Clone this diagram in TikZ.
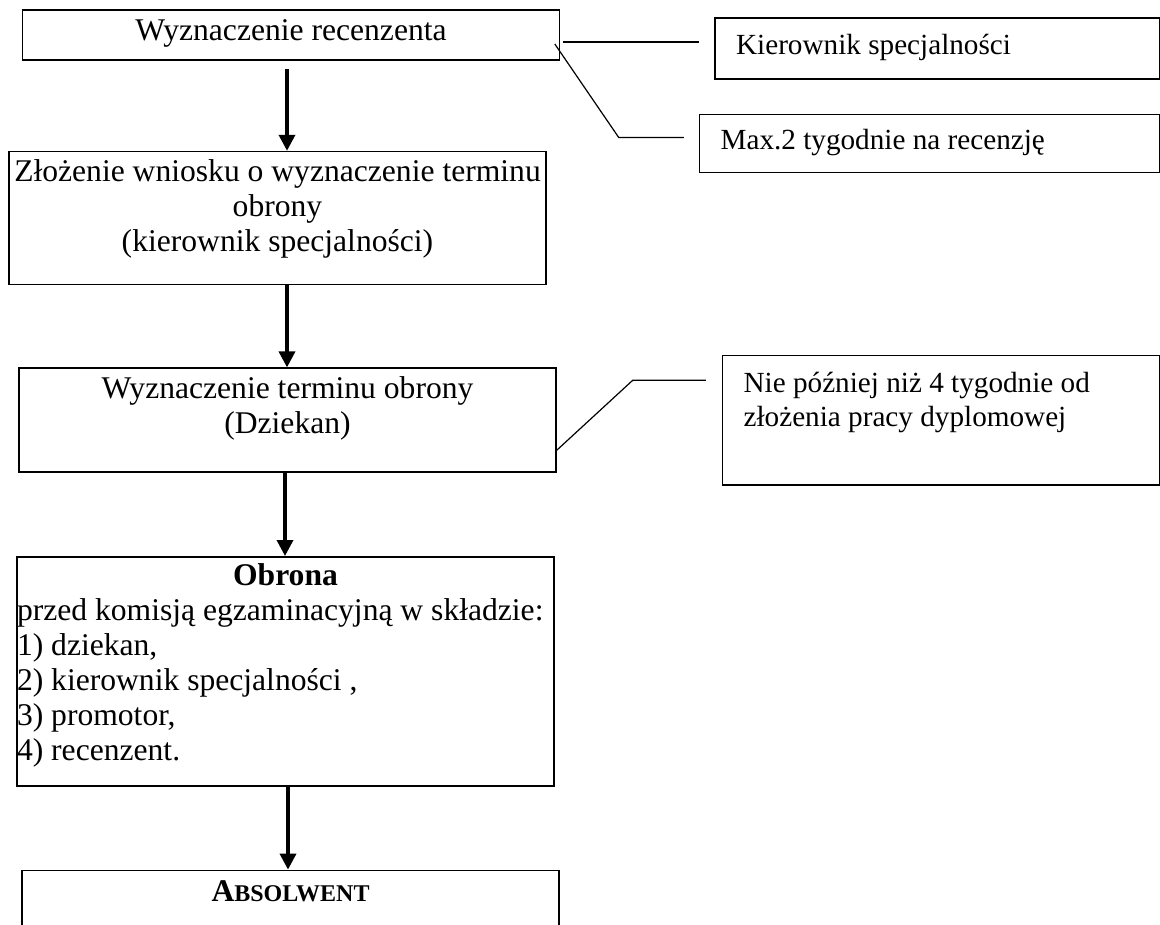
\documentclass[tikz,border=0pt]{standalone}
\usepackage{fontspec}
\setmainfont{Liberation Serif}
\usepackage{tikz}
\usetikzlibrary{positioning,arrows.meta}

\begin{document}
\begin{tikzpicture}[x=1pt,y=1pt,
  etap/.style={draw,line width=1.6pt,inner sep=0pt,text width=537pt,align=flush center,font=\fontsize{31.6}{35}\selectfont},
  uwaga/.style={draw,line width=1.6pt,inner xsep=21pt,inner ysep=0pt,align=flush left,font=\fontsize{29.2}{34}\selectfont},
  strz/.style={-{Triangle[width=16pt,length=16pt]},line width=3.5pt},
  lin/.style={line width=1.2pt}]

\useasboundingbox (0,0) rectangle (1160,-925);

\node[etap,text height=31pt,text depth=19pt] (rec) at (291,-35) {Wyznaczenie recenzenta};
\node[etap,below=90pt of rec,xshift=-13.5pt,text height=30pt,text depth=103pt] (wniosek) {Złożenie wniosku o wyznaczenie terminu\\obrony\\(kierownik specjalności)};
\node[etap,below=82pt of wniosek,xshift=10pt,text height=30pt,text depth=74pt] (termin) {Wyznaczenie terminu obrony\\(Dziekan)};
\node[etap,below=83pt of termin,xshift=-2pt,align=flush left,text height=29pt,text depth=200pt] (obrona) {{\centering\bfseries Obrona\par}przed komisją egzaminacyjną w składzie:\\1) dziekan,\\2) kierownik specjalności ,\\3) promotor,\\4) recenzent.};
\node[etap,below=83pt of obrona,xshift=5pt,text height=31pt,text depth=80pt] (absol) {\bfseries A{\fontsize{24}{35}\selectfont BSOLWENT}};

\node[uwaga,right=154pt of rec,yshift=-13.5pt,text width=403pt,text height=37pt,text depth=24pt] (kier) {Kierownik specjalności};
\node[uwaga,below=34pt of kier,xshift=-8pt,text width=418pt,text height=35pt,text depth=23pt] (maxt) {Max.2 tygodnie na recenzję};
\node[uwaga,right=165pt of termin,text width=395pt,text height=37pt,text depth=92pt] (nie) {Nie później niż 4 tygodnie od\\złożenia pracy dyplomowej};

\path ([xshift=-4pt,yshift=-8pt]rec.south) edge[strz] ([xshift=9.5pt]wniosek.north);
\path ([xshift=9.5pt]wniosek.south) edge[strz] ([xshift=-0.5pt]termin.north);
\path ([xshift=-2.5pt]termin.south) edge[strz] ([xshift=-0.5pt]obrona.north);
\path ([xshift=2.5pt]obrona.south) edge[strz] ([xshift=-2.5pt]absol.north);

\coordinate (k1) at ([xshift=-15pt,yshift=6.5pt]kier.west);
\coordinate (m1) at ([xshift=-80pt,yshift=6pt]maxt.west);
\coordinate (m2) at ([xshift=-15pt,yshift=6pt]maxt.west);
\coordinate (n1) at ([xshift=-89pt,yshift=40pt]nie.west);
\coordinate (n2) at ([xshift=-16pt,yshift=40pt]nie.west);
\draw[lin] ([xshift=2.5pt,yshift=-7pt]rec.east) -- (k1);
\draw[lin] ([xshift=-5.5pt,yshift=-9pt]rec.east) -- (m1) -- (m2);
\draw[lin] ([yshift=-30pt]termin.east) -- (n1) -- (n2);

\end{tikzpicture}
\end{document}
